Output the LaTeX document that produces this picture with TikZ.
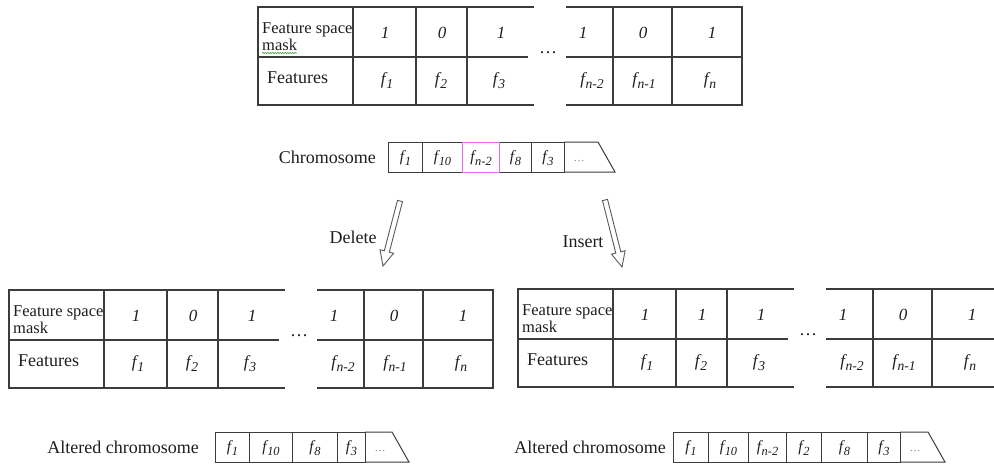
\documentclass[tikz,border=0pt]{standalone}
\usepackage{fontspec}
\usepackage{graphicx}
\setmainfont{Liberation Serif}
\usetikzlibrary{calc,decorations.pathmorphing}
\definecolor{ink}{HTML}{1E1E1E}
\definecolor{rulec}{HTML}{3C3C3C}
\definecolor{pinkedge}{HTML}{E36BE3}
\definecolor{arrowgray}{HTML}{5A5A5A}
\definecolor{spellgreen}{HTML}{4CA24C}

\newcommand\fv[1]{f\kern0.6pt\raisebox{-0.28em}{\scalebox{0.8}{#1}}}

\tikzset{
 tbl/.style={draw=rulec, line width=1.3pt, line cap=rect},
 lbl/.style={font=\fontsize{16.5}{18}\selectfont, text=ink, inner sep=0pt, anchor=base west},
 big/.style={font=\fontsize{18}{20}\selectfont, text=ink, inner sep=0pt},
 val/.style={font=\fontsize{17}{20}\selectfont\itshape, text=ink, inner sep=0pt, anchor=base},
 cell/.style={draw=rulec, line width=1pt, minimum height=30pt, inner sep=0pt, anchor=west,
   text height=12pt, text depth=4pt, font=\fontsize{15.5}{17}\selectfont\itshape, text=ink},
 celldots/.style={font=\fontsize{11}{12}\selectfont, text=gray, inner sep=0pt},
 tailbox/.style={draw=rulec, line width=1pt},
 blk/.style={draw=arrowgray, line width=0.9pt, fill=white, line join=miter},
}

% #1 prefix, #2 x, #3 y, #4-#9 mask values
\newcommand\masktable[9]{%
\begin{scope}[shift={(#2,#3)}]
 \draw[tbl] (0,0) -- (275,0) (0,50) -- (269,50) (0,98) -- (275,98)
   (0,0) -- (0,98) (95,0) -- (95,98) (158,0) -- (158,98) (209,0) -- (209,98);
 \draw[tbl] (309,0) -- (484,0) -- (484,98) -- (309,98) (309,50) -- (484,50)
   (355,0) -- (355,98) (414,0) -- (414,98);
 \node[lbl] (#1-fs) at (4,26) {Feature space};
 \node[lbl] (#1-mk) at (4,43) {mask};
 \node[lbl, font=\fontsize{18}{20}\selectfont] (#1-ft) at (9,76) {Features};
 \node[val] (#1-v1) at (127,31) {#4};
 \node[val] (#1-v2) at (184,31) {#5};
 \node[val] (#1-v3) at (243,31) {#6};
 \node[val] (#1-v4) at (325,31) {#7};
 \node[val] (#1-v5) at (385,31) {#8};
 \node[val] (#1-v6) at (454,31) {#9};
 \node[val] (#1-f1) at (129,77) {\fv{1}};
 \node[val] (#1-f2) at (183,77) {\fv{2}};
 \node[val] (#1-f3) at (241,77) {\fv{3}};
 \node[val] (#1-f4) at (334,77) {\fv{n-2}};
 \node[val] (#1-f5) at (386,77) {\fv{n-1}};
 \node[val] (#1-f6) at (452,77) {\fv{n}};
 \node[big] (#1-dots) at (290,46) {\dots};
\end{scope}}

% #1 name, #2 left x, #3 top-right x, #4 y center
\newcommand\tailcell[4]{%
 \draw[tailbox] (#2,#4-15) -- (#3,#4-15) -- (#3+17,#4+15) -- (#2,#4+15);
 \node[celldots] (#1) at (#2+15,#4+4) {\dots};}

% hollow block arrow from #1 to #2
\newcommand\hollowarrow[2]{%
 \coordinate (hb) at ($(#2)!15pt!(#1)$);
 \draw[blk] ($(#1)!2.6pt!90:(#2)$) -- ($(hb)!2.6pt!-90:(#1)$) -- ($(hb)!7pt!-90:(#1)$)
   -- (#2) -- ($(hb)!7pt!90:(#1)$) -- ($(hb)!2.6pt!90:(#1)$) -- ($(#1)!2.6pt!-90:(#2)$) -- cycle;}

\begin{document}
\begin{tikzpicture}[x=1pt,y=-1pt]
\useasboundingbox (0,0) rectangle (994,464);
\clip (0,0) rectangle (994,464);

% top table
\masktable{top}{258}{7}{1}{0}{1}{1}{0}{1}
\draw[spellgreen, line width=0.6pt, decorate, decoration={snake, amplitude=0.7pt, segment length=2.5pt}]
  ($(top-mk.base west)+(0,3)$) -- ($(top-mk.base east)+(0,3)$);

% chromosome
\node[big, anchor=east] (chr) at (376,157) {Chromosome};
\node[cell, minimum width=34pt] (c1) at (388,157) {\fv{1}};
\node[cell, minimum width=40pt] (c2) at (422,157) {\fv{10}};
\node[cell, minimum width=32pt] (c4) at (499,157) {\fv{8}};
\node[cell, minimum width=33pt] (c5) at (531,157) {\fv{3}};
\node[cell, minimum width=37pt, draw=pinkedge] (c3) at (462,157) {\fv{n-2}};
\tailcell{c6}{564}{598}{157}

% arrows
\node[big] (del) at (353,237) {Delete};
\node[big] (ins) at (583,242) {Insert};
\coordinate (dA) at (400,201);
\coordinate (dB) at (383,266);
\coordinate (iA) at (605,200);
\coordinate (iB) at (622,267);
\hollowarrow{dA}{dB}
\hollowarrow{iA}{iB}

% bottom tables
\masktable{bl}{9}{290}{1}{0}{1}{1}{0}{1}
\masktable{br}{518}{289}{1}{1}{1}{1}{0}{1}

% altered chromosomes
\node[big, anchor=east] (alt1) at (199,447) {Altered chromosome};
\node[cell, minimum width=34pt] (a1) at (215,447) {\fv{1}};
\node[cell, minimum width=43pt] (a2) at (249,447) {\fv{10}};
\node[cell, minimum width=45pt] (a3) at (292,447) {\fv{8}};
\node[cell, minimum width=28pt] (a4) at (337,447) {\fv{3}};
\tailcell{a5}{365}{392}{447}

\node[big, anchor=east] (alt2) at (666,447) {Altered chromosome};
\node[cell, minimum width=35pt] (b1) at (673,447) {\fv{1}};
\node[cell, minimum width=40pt] (b2) at (708,447) {\fv{10}};
\node[cell, minimum width=38pt] (b3) at (748,447) {\fv{n-2}};
\node[cell, minimum width=35pt] (b4) at (786,447) {\fv{2}};
\node[cell, minimum width=46pt] (b5) at (821,447) {\fv{8}};
\node[cell, minimum width=33pt] (b6) at (867,447) {\fv{3}};
\tailcell{b7}{900}{928}{447}
\end{tikzpicture}
\end{document}
